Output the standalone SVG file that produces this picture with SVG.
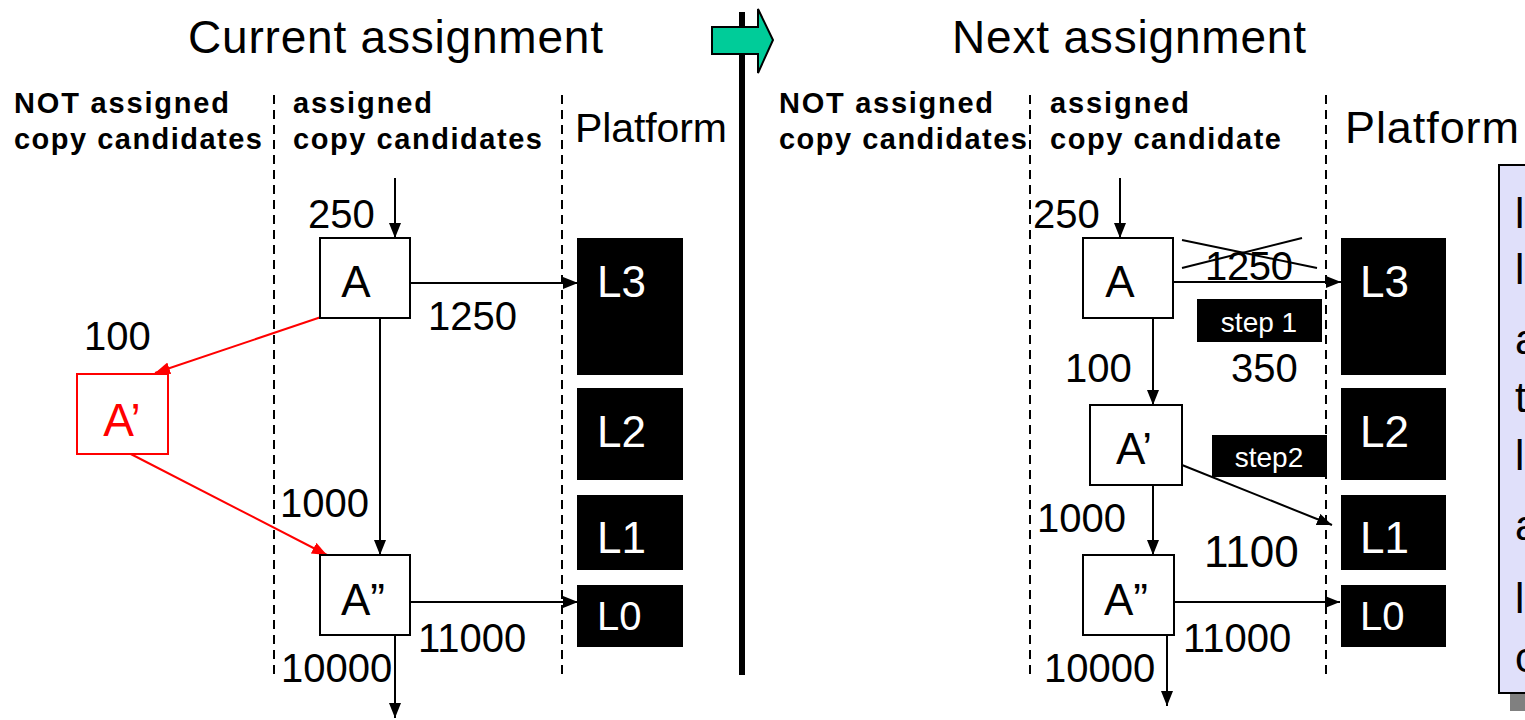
<svg xmlns="http://www.w3.org/2000/svg" width="1525" height="720" viewBox="0 0 1525 720">
<defs>
<style>
text{font-family:"Liberation Sans",Arial,sans-serif;fill:#000}
.title{font-size:46px}
.hdr{font-size:29px;font-weight:bold}
.plat{font-size:41px}
.num{font-size:40px}
.lbl{font-size:44px;text-anchor:middle}
.wl{font-size:44px;fill:#fff}
.st{font-size:28px;fill:#fff;text-anchor:middle}
.sep{stroke:#000;stroke-width:2;stroke-dasharray:9 6;fill:none}
.box{fill:#fff;stroke:#000;stroke-width:2}
.blk{fill:#000}
.ln{stroke:#000;stroke-width:2;fill:none}
.rln{stroke:#f00;stroke-width:2;fill:none}
.side{font-size:42px}
</style>
<marker id="ah" viewBox="0 0 15 12" refX="15" refY="6" markerWidth="15" markerHeight="12" orient="auto" markerUnits="userSpaceOnUse"><path d="M0,0 L15,6 L0,12 z" fill="#000"/></marker>
<marker id="rah" viewBox="0 0 15 12" refX="15" refY="6" markerWidth="15" markerHeight="12" orient="auto" markerUnits="userSpaceOnUse"><path d="M0,0 L15,6 L0,12 z" fill="#f00"/></marker>
</defs>
<rect width="1525" height="720" fill="#fff"/>

<g id="divider">
<line x1="742" y1="12" x2="742" y2="675" stroke="#000" stroke-width="6"/>
<polygon points="712,27 758,27 758,9 773,40 758,73 758,54 712,54" fill="#00CC99" stroke="#000" stroke-width="2"/>
</g>

<g id="headers">
<text class="title" x="188" y="53" textLength="415">Current assignment</text>
<text class="title" x="952" y="53" textLength="354">Next assignment</text>
<text class="hdr" x="14" y="113" textLength="215">NOT assigned</text>
<text class="hdr" x="14" y="149" textLength="248">copy candidates</text>
<text class="hdr" x="293" y="113" textLength="139">assigned</text>
<text class="hdr" x="293" y="149" textLength="249">copy candidates</text>
<text class="plat" x="575" y="142" textLength="152">Platform</text>
<text class="hdr" x="779" y="113" textLength="214">NOT assigned</text>
<text class="hdr" x="779" y="149" textLength="248">copy candidates</text>
<text class="hdr" x="1050" y="113" textLength="139">assigned</text>
<text class="hdr" x="1050" y="149" textLength="231">copy candidate</text>
<text class="plat" x="1345" y="143" textLength="174" style="font-size:45px">Platform</text>
</g>

<g id="separators">
<line class="sep" x1="274" y1="95" x2="274" y2="675"/>
<line class="sep" x1="562" y1="95" x2="562" y2="675"/>
<line class="sep" x1="1030" y1="95" x2="1030" y2="675"/>
<line class="sep" x1="1326" y1="95" x2="1326" y2="675"/>
</g>

<g id="platform-left">
<rect class="blk" x="577" y="238" width="106" height="137"/>
<rect class="blk" x="577" y="388" width="106" height="92"/>
<rect class="blk" x="577" y="495" width="106" height="75"/>
<rect class="blk" x="577" y="585" width="106" height="62"/>
<text class="wl" x="597" y="297">L3</text>
<text class="wl" x="597" y="447">L2</text>
<text class="wl" x="597" y="553">L1</text>
<text class="wl" x="597" y="630" style="font-size:40px">L0</text>
</g>

<g id="platform-right">
<rect class="blk" x="1341" y="238" width="105" height="137"/>
<rect class="blk" x="1341" y="388" width="105" height="92"/>
<rect class="blk" x="1341" y="495" width="105" height="75"/>
<rect class="blk" x="1341" y="585" width="105" height="62"/>
<text class="wl" x="1360" y="297">L3</text>
<text class="wl" x="1360" y="447">L2</text>
<text class="wl" x="1360" y="553">L1</text>
<text class="wl" x="1360" y="630" style="font-size:40px">L0</text>
</g>

<g id="connectors">
<line class="ln" x1="395" y1="178" x2="395" y2="238" marker-end="url(#ah)"/>
<line class="ln" x1="410" y1="283" x2="578" y2="283" marker-end="url(#ah)"/>
<line class="ln" x1="380" y1="313" x2="380" y2="555" marker-end="url(#ah)"/>
<line class="rln" x1="333" y1="313" x2="155" y2="373" marker-end="url(#rah)"/>
<line class="rln" x1="123" y1="450" x2="327" y2="555" marker-end="url(#rah)"/>
<line class="ln" x1="410" y1="602" x2="578" y2="602" marker-end="url(#ah)"/>
<line class="ln" x1="395" y1="632" x2="395" y2="718" marker-end="url(#ah)"/>
<line class="ln" x1="1120" y1="178" x2="1120" y2="238" marker-end="url(#ah)"/>
<line class="ln" x1="1173" y1="282" x2="1341" y2="282" marker-end="url(#ah)"/>
<line class="ln" x1="1153" y1="316" x2="1153" y2="405" marker-end="url(#ah)"/>
<line class="ln" x1="1182" y1="465" x2="1332" y2="525" marker-end="url(#ah)"/>
<line class="ln" x1="1153" y1="483" x2="1153" y2="555" marker-end="url(#ah)"/>
<line class="ln" x1="1174" y1="602" x2="1340" y2="602" marker-end="url(#ah)"/>
<line class="ln" x1="1167" y1="632" x2="1167" y2="706" marker-end="url(#ah)"/>
</g>

<g id="node-A-left">
<rect class="box" x="320" y="238" width="90" height="80"/>
<text class="lbl" x="356" y="297">A</text>
</g>
<g id="node-A2-left">
<rect class="box" x="320" y="555" width="90" height="80"/>
<text class="lbl" x="363" y="615">A”</text>
</g>
<g id="node-A1-left">
<rect x="77" y="374" width="91" height="80" fill="#fff" stroke="#f00" stroke-width="2"/>
<text class="lbl" x="122" y="436" style="fill:#f00;font-size:46px">A’</text>
</g>

<g id="node-A-right">
<rect class="box" x="1083" y="238" width="90" height="80"/>
<text class="lbl" x="1120" y="297">A</text>
</g>
<g id="node-A1-right">
<rect class="box" x="1090" y="405" width="92" height="80"/>
<text class="lbl" x="1134" y="464">A’</text>
</g>
<g id="node-A2-right">
<rect class="box" x="1083" y="555" width="91" height="80"/>
<text class="lbl" x="1126" y="615">A”</text>
</g>

<g id="labels-left">
<text class="num" x="308" y="228">250</text>
<text class="num" x="428" y="330">1250</text>
<text class="num" x="84" y="350">100</text>
<text class="num" x="280" y="517">1000</text>
<text class="num" x="418" y="652">11000</text>
<text class="num" x="281" y="682">10000</text>
</g>

<g id="labels-right">
<text class="num" x="1033" y="228">250</text>
<text class="num" x="1205" y="280" textLength="88">1250</text>
<line class="ln" x1="1182" y1="268" x2="1302" y2="238"/>
<line class="ln" x1="1182" y1="240" x2="1317" y2="268"/>
<rect class="blk" x="1197" y="299" width="125" height="43"/>
<text class="st" x="1259" y="332">step 1</text>
<text class="num" x="1231" y="382">350</text>
<text class="num" x="1065" y="382">100</text>
<rect class="blk" x="1212" y="435" width="115" height="42"/>
<text class="st" x="1269" y="467">step2</text>
<text class="num" x="1037" y="532">1000</text>
<text class="num" x="1204" y="567" style="font-size:44px">1100</text>
<text class="num" x="1183" y="652">11000</text>
<text class="num" x="1044" y="682">10000</text>
</g>

<g id="side-note">
<rect x="1510" y="183" width="30" height="528" fill="#808080"/>
<rect x="1499" y="165" width="40" height="528" fill="#E0E0FA" stroke="#000" stroke-width="2"/>
<text class="side" x="1515" y="228">l</text>
<text class="side" x="1515" y="284">l</text>
<text class="side" x="1515" y="354">a</text>
<text class="side" x="1515" y="412">t</text>
<text class="side" x="1515" y="470">l</text>
<text class="side" x="1515" y="540">a</text>
<text class="side" x="1515" y="613">l</text>
<text class="side" x="1515" y="672">c</text>
</g>
</svg>
